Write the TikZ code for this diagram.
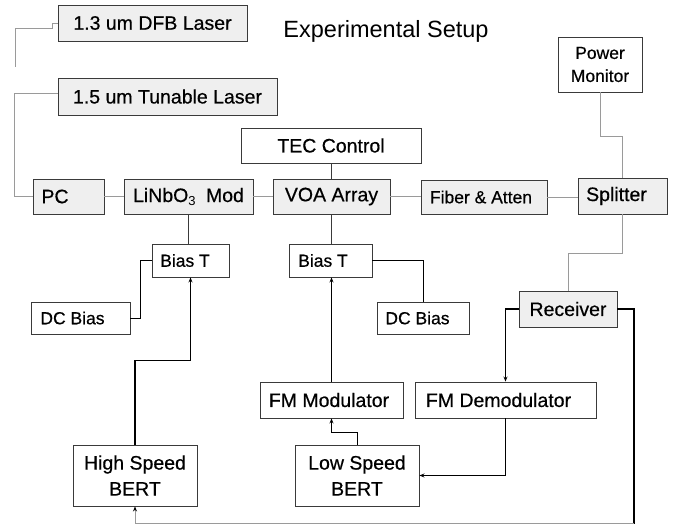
\documentclass[tikz,border=0pt]{standalone}
\usepackage{fontspec}
\setmainfont{Liberation Sans}[FakeBold=0.5]
\newfontfamily\titlefont{Liberation Sans}
\usetikzlibrary{arrows.meta}
\definecolor{boxline}{HTML}{3A3A3A}
\definecolor{boxfill}{HTML}{EFEFEF}
\definecolor{optline}{HTML}{9A9A9A}
\newcommand{\fbig}{\fontsize{19.5}{26}\selectfont}
\newcommand{\fsmall}{\fontsize{17.5}{23}\selectfont}
\begin{document}
\begin{tikzpicture}[x=1pt,y=-1pt,
  blk/.style={draw=boxline, line width=0.9pt, inner sep=0pt, align=center, font=\fbig, fill=white},
  grayblk/.style={blk, fill=boxfill},
  smalltext/.style={font=\fsmall},
  sz/.style 2 args={minimum width=#1pt, minimum height=#2pt},
  opt/.style={draw=optline, line width=0.9pt},
  dark/.style={draw=boxline, line width=0.9pt},
  elec/.style={draw=black, line width=1.1pt},
  electhin/.style={draw=black, line width=0.8pt},
  arr/.style={-{Stealth[length=5pt,width=4pt,black]}}]
\useasboundingbox (0,0) rectangle (674,525);

% title
\node[font=\titlefont\fontsize{23.5}{28}\selectfont, anchor=base, inner sep=0pt] (title) at (386,37) {Experimental Setup};

% boxes
\node[grayblk, sz={189}{36}] (dfb) at (152.5,23) {1.3 um DFB Laser};
\node[grayblk, sz={219}{37}] (tun) at (167.5,96.5) {1.5 um Tunable Laser};
\node[grayblk, sz={71}{35}] (pc) at (68.5,196.5) {\hspace*{-27pt}PC};
\node[grayblk, sz={129}{35}] (lin) at (188.5,196.5) {LiNbO\raisebox{-3pt}{\titlefont\fontsize{13}{13}\selectfont 3}\hspace{5pt} Mod};
\node[grayblk, sz={117}{35}] (voa) at (331.5,196.5) {VOA Array};
\node[grayblk, smalltext, sz={126}{34}] (fib) at (484,197) {\hspace*{-6pt}Fiber \& Atten};
\node[grayblk, sz={89}{36}] (spl) at (622.5,196) {\hspace*{-12pt}Splitter};
\node[blk, sz={180}{35}] (tec) at (331,145.5) {TEC Control};
\node[blk, smalltext, sz={84}{55}] (pm) at (600,64.5) {Power\\Monitor};
\node[blk, smalltext, sz={77}{33}] (bt1) at (190.5,260.5) {\hspace*{-11pt}Bias T};
\node[blk, smalltext, sz={83}{33}] (bt2) at (330.5,260.5) {\hspace*{-15pt}Bias T};
\node[blk, smalltext, sz={99}{32}] (dc1) at (80.5,318) {\hspace*{-16pt}DC Bias};
\node[blk, smalltext, sz={92}{32}] (dc2) at (423,318) {\hspace*{-11pt}DC Bias};
\node[grayblk, sz={98}{36}] (rec) at (568,309) {Receiver};
\node[blk, sz={143}{36}] (fmm) at (331.5,400) {\hspace*{-5pt}FM Modulator};
\node[blk, sz={181}{36}] (fmd) at (505.5,400) {\hspace*{-14pt}FM Demodulator};
\node[blk, sz={124}{61}] (hsb) at (135,475.5) {High Speed\\BERT};
\node[blk, sz={124}{61}] (lsb) at (357,475.5) {Low Speed\\BERT};

% free ends and corners
\coordinate (dfbend) at (15,67);
\coordinate (corner) at (634,523.5);

% optical connections
\draw[opt] (dfb.west) -- ++(-5,0) -- ++(0,5) -| (dfbend);
\draw[opt] ([yshift=3pt]tun.west) -| ([xshift=-18pt]pc.west) -- (pc.west);
\draw[opt] (pc.east) -- (lin.west);
\draw[opt] (lin.east) -- (voa.west);
\draw[opt] (voa.east) -- (voa.east -| fib.west);
\draw[opt] (fib.east) -- (fib.east -| spl.west);
\draw[opt] (pm.south) -- ++(0,44) -| (spl.north);
\draw[opt] (spl.south) -- ++(0,39) -| (rec.north);

% control / bias connections
\draw[dark] (tec.south) -- (tec.south |- voa.north);
\draw[dark] (lin.south) -- (lin.south |- bt1.north);
\draw[dark] (voa.south) -- (voa.south |- bt2.north);
\draw[electhin] (dc1.east) -- ++(10,0) |- (bt1.west);
\draw[electhin] (bt2.east) -| (dc2.north);

% electrical signal paths
\draw[elec, arr] (hsb.north) -- ++(0,-84) -| (bt1.south);
\draw[electhin, arr] (fmm.north) -- (fmm.north |- bt2.south);
\draw[electhin, arr] (lsb.north) -- ++(0,-12) -| (fmm.south);
\draw[elec, arr] (fmd.south) |- (lsb.east);
\draw[elec, arr] (rec.west) -| (fmd.north);
\draw[elec] (rec.east) -| (corner);
\draw[opt, arr] (corner) -| (hsb.south);
\end{tikzpicture}
\end{document}
